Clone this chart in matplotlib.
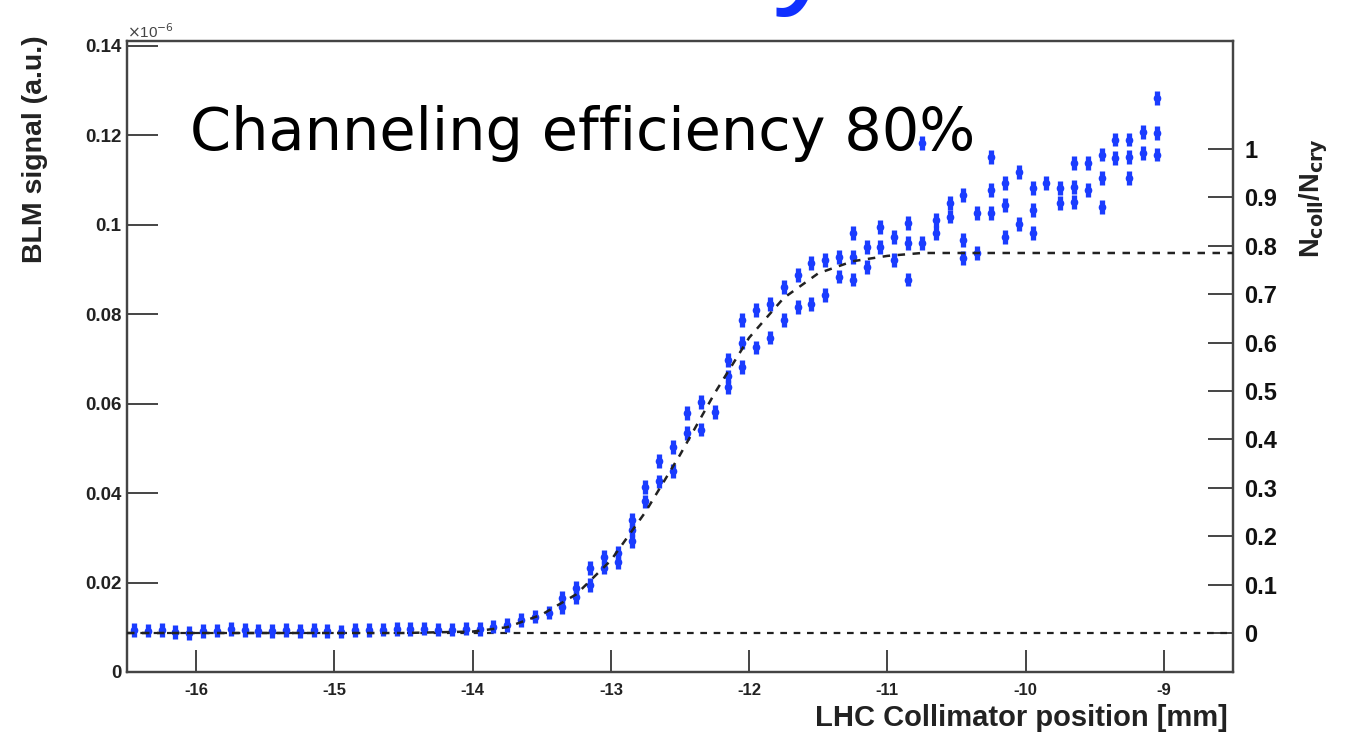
import numpy as np
import matplotlib.pyplot as plt

# collimator scan: positions [mm] and measured N_coll/N_cry at each step
scan_pos = [-16.45, -16.35, -16.25, -16.15, -16.05, -15.95, -15.85, -15.75, -15.65, -15.55,
            -15.45, -15.35, -15.25, -15.15, -15.05, -14.95, -14.85, -14.75, -14.65, -14.55,
            -14.45, -14.35, -14.25, -14.15, -14.05, -13.95, -13.85, -13.75, -13.65, -13.55,
            -13.45, -13.35, -13.25, -13.15, -13.05, -12.95, -12.85, -12.75, -12.65, -12.55,
            -12.45, -12.35, -12.25, -12.15, -12.05, -11.95, -11.85, -11.75, -11.65, -11.55,
            -11.45, -11.35, -11.25, -11.15, -11.05, -10.95, -10.85, -10.75, -10.65, -10.55,
            -10.45, -10.35, -10.25, -10.15, -10.05, -9.95, -9.85, -9.75, -9.65, -9.55,
            -9.45, -9.35, -9.25, -9.15, -9.05]

scan_vals = [[0.006], [0.005], [0.006], [0.002], [0.000], [0.004], [0.005], [0.008], [0.006], [0.005],
             [0.004], [0.006], [0.004], [0.006], [0.004], [0.003], [0.006], [0.006], [0.007], [0.008],
             [0.008], [0.009], [0.007], [0.007], [0.009], [0.008], [0.013], [0.017], [0.027], [0.034],
             [0.042], [0.072, 0.054], [0.093, 0.074], [0.134, 0.099], [0.157, 0.135],
             [0.165, 0.147], [0.233, 0.213, 0.19], [0.302, 0.272], [0.355, 0.313], [0.384, 0.335],
             [0.455, 0.413], [0.477, 0.42], [0.457], [0.564, 0.53, 0.508], [0.647, 0.6, 0.55],
             [0.667, 0.59], [0.68, 0.61], [0.715, 0.647], [0.74, 0.674], [0.764, 0.68],
             [0.771, 0.698], [0.777, 0.736], [0.826, 0.777, 0.73], [0.797, 0.756], [0.839, 0.797],
             [0.818, 0.771], [0.847, 0.806, 0.73], [1.012, 0.806], [0.853, 0.826], [0.888, 0.86],
             [0.905, 0.812, 0.775], [0.868, 0.785], [0.983, 0.915, 0.868], [0.93, 0.884, 0.818],
             [0.952, 0.845], [0.919, 0.874, 0.826], [0.93], [0.919, 0.888], [0.971, 0.921, 0.89],
             [0.971, 0.915], [0.988, 0.94, 0.88], [1.019, 0.981], [1.019, 0.983, 0.94],
             [1.035, 0.992], [1.105, 1.033, 0.988]]

# fit curve
fit_pos = [-16.5, -14.5, -14.0, -13.75, -13.5, -13.25, -13.0, -12.75, -12.5, -12.25,
           -12.0, -11.75, -11.5, -11.25, -11.0, -10.75, -8.5]
fit_vals = [0.0, 0.0, 0.003, 0.012, 0.038, 0.080, 0.150, 0.250, 0.368, 0.495,
            0.610, 0.692, 0.743, 0.768, 0.779, 0.785, 0.785]

blm_ticks = [0, 0.02, 0.04, 0.06, 0.08, 0.1, 0.12, 0.14]
blm_labels = ['0', '0.02', '0.04', '0.06', '0.08', '0.1', '0.12', '0.14']
ratio_ticks = [0, 0.1, 0.2, 0.3, 0.4, 0.5, 0.6, 0.7, 0.8, 0.9, 1]
ratio_labels = ['0', '0.1', '0.2', '0.3', '0.4', '0.5', '0.6', '0.7', '0.8', '0.9', '1']
pos_ticks = [-16, -15, -14, -13, -12, -11, -10, -9]

# BLM signal of ratio 0 and scale of ratio 1
blm_zero = 0.00872
blm_per_ratio = 0.10825
blm_top = 0.1411

xs = [p for p, v in zip(scan_pos, scan_vals) for _ in v]
ys = [y for v in scan_vals for y in v]

plt.rcParams['font.family'] = ['Liberation Sans', 'DejaVu Sans']

fig = plt.figure(figsize=(13.47, 7.39), dpi=100)
ax = fig.add_axes([127 / 1347, 67 / 739, (1233 - 127) / 1347, (672 - 41) / 739])
ax.set_xlim(-16.5, -8.5)
ax.set_ylim(0, blm_top)
ax2 = ax.twinx()
ax2.set_ylim(-blm_zero / blm_per_ratio, (blm_top - blm_zero) / blm_per_ratio)

gray = '#444444'
for a in (ax, ax2):
    for s in a.spines.values():
        s.set_color(gray)
        s.set_linewidth(1.6)

ax.set_yticks(blm_ticks)
ax.set_yticklabels(blm_labels)
ax.set_xticks(pos_ticks)
ax.set_xticklabels([str(t) for t in pos_ticks])
ax.tick_params(axis='y', direction='in', length=22, width=1.4, color=gray,
               labelsize=13.5, pad=4, labelcolor='#222222')
ax.tick_params(axis='x', direction='in', length=16, width=1.4, color=gray,
               labelsize=12, pad=8, labelcolor='#222222')
for lab in ax.get_xticklabels() + ax.get_yticklabels():
    lab.set_fontweight('bold')

ax2.set_yticks(ratio_ticks)
ax2.set_yticklabels(ratio_labels)
ax2.tick_params(axis='y', direction='in', length=18, width=1.4, color=gray,
                labelsize=17, pad=8, labelcolor='#111111')
for lab in ax2.get_yticklabels():
    lab.set_fontweight('bold')

# dashed reference at zero and fit curve
ax2.axhline(0, color='#222222', lw=1.6, ls=(0, (3, 3)), zorder=2)
ax2.plot(fit_pos, fit_vals, color='#222222', lw=1.8, ls=(0, (3, 3)), zorder=4)

ax2.errorbar(xs, ys, yerr=0.014, fmt='o', ms=4.5, color='#1a3cff', ecolor='#1a3cff',
             elinewidth=3.8, capsize=0, zorder=3)

ax.text(0.0, 1.0, r'$\times$10$^{-6}$', transform=ax.transAxes, fontsize=11,
        color='#444444', ha='left', va='bottom')

fig.text(1228 / 1347, 1 - 718 / 739, 'LHC Collimator position [mm]', fontsize=21,
         fontweight='bold', ha='right', va='center', color='#222222')
fig.text(35 / 1347, 1 - 35 / 739, 'BLM signal (a.u.)', fontsize=20.5, fontweight='bold',
         rotation=90, ha='center', va='top', color='#222222')
fig.text(1314 / 1347, 1 - 138 / 739, r'N$_{\mathbf{coll}}$/N$_{\mathbf{cry}}$', fontsize=19.5,
         fontweight='bold', rotation=90, ha='center', va='top', color='#222222')

fig.text(190 / 1347, 1 - 150 / 739, 'Channeling efficiency 80%', fontsize=42.5,
         family='DejaVu Sans', ha='left', va='baseline', color='black')
# tail of the cut-off blue title above the frame
fig.text(772 / 1347, 1 + 12 / 739, 'y', fontsize=100, family='Liberation Sans',
         ha='left', va='baseline', color='#1030ff')

fig.savefig('out.png', dpi=100)
